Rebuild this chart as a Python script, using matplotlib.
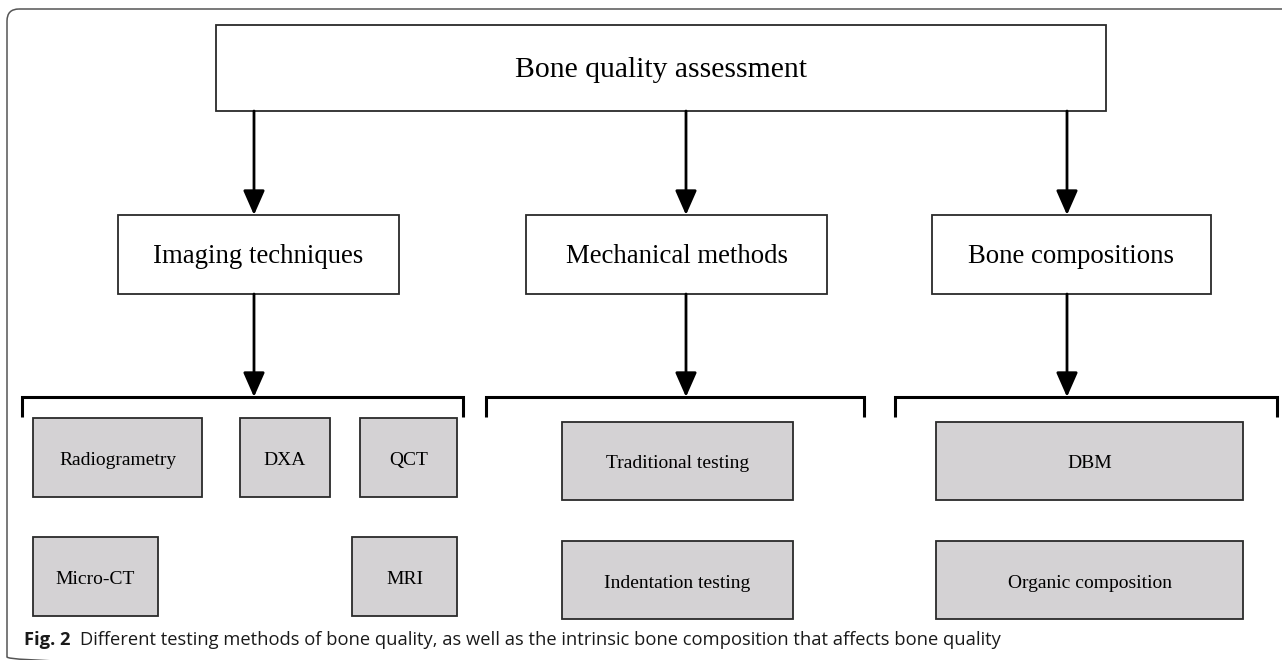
import matplotlib
matplotlib.use("Agg")
import matplotlib.pyplot as plt
from matplotlib.patches import Rectangle, FancyBboxPatch, FancyArrowPatch

# ---- content ----
root_label = "Bone quality assessment"
group_labels = ["Imaging techniques", "Mechanical methods", "Bone compositions"]
leaf_labels = ["Radiogrametry", "DXA", "QCT", "Micro-CT", "MRI",
               "Traditional testing", "Indentation testing",
               "DBM", "Organic composition"]
caption_bold = "Fig. 2"
caption_text = "Different testing methods of bone quality, as well as the intrinsic bone composition that affects bone quality"

# ---- layout (pixel coordinates: x0, y0, x1, y1) ----
root_box = (216, 25, 1106, 111)
group_boxes = [(118, 215, 399, 294), (526, 215, 827, 294), (932, 215, 1211, 294)]
group_arrow_x = [254, 686, 1067]
brackets = [(22, 463), (486, 864), (895, 1277)]
bracket_y, bracket_tick = 397, 417
leaf_boxes = [(33, 418, 202, 497), (240, 418, 330, 497), (360, 418, 457, 497),
              (33, 537, 158, 616), (352, 537, 457, 616),
              (562, 422, 793, 500), (562, 541, 793, 619),
              (936, 422, 1243, 500), (936, 541, 1243, 619)]

W, H = 1282, 660
fig = plt.figure(figsize=(W / 100, H / 100), dpi=100)
ax = fig.add_axes([0, 0, 1, 1])
ax.set_xlim(0, W)
ax.set_ylim(H, 0)
ax.axis("off")

serif = ["Liberation Serif", "DejaVu Serif"]
edge = "#2a2a2a"

# outer frame (bottom edge falls just outside the image)
frame = FancyBboxPatch((7, 9), 1400, 660, boxstyle="round,pad=0,rounding_size=12",
                       fc="none", ec="#555555", lw=1.1)
ax.add_patch(frame)

def box(b, fc="white"):
    x0, y0, x1, y1 = b
    ax.add_patch(Rectangle((x0, y0), x1 - x0, y1 - y0, fc=fc, ec=edge, lw=1.3))

def arrow(x, y0, y1):
    ax.add_patch(FancyArrowPatch((x, y0), (x, y1), arrowstyle="-|>,head_length=1.25,head_width=0.55",
                                 mutation_scale=12, color="black", lw=2, shrinkA=0, shrinkB=0))

# root
box(root_box)
ax.text((root_box[0] + root_box[2]) / 2, (root_box[1] + root_box[3]) / 2 + 2, root_label,
        ha="center", va="center", fontsize=21.3, family=serif)

for gb, lab, ax_x, (bx0, bx1) in zip(group_boxes, group_labels, group_arrow_x, brackets):
    arrow(ax_x, root_box[3], gb[1])
    box(gb)
    ax.text((gb[0] + gb[2]) / 2, (gb[1] + gb[3]) / 2 + 2, lab,
            ha="center", va="center", fontsize=19.3, family=serif)
    arrow(ax_x, gb[3], bracket_y)
    ax.plot([bx0, bx0, bx1, bx1], [bracket_tick, bracket_y, bracket_y, bracket_tick],
            color="black", lw=2.2, solid_joinstyle="miter", solid_capstyle="butt")

for lb, lab in zip(leaf_boxes, leaf_labels):
    box(lb, fc="#d4d2d4")
    ax.text((lb[0] + lb[2]) / 2, (lb[1] + lb[3]) / 2 + 3, lab,
            ha="center", va="center", fontsize=14, family=serif)

cap_font = ["Open Sans", "DejaVu Sans"]
t = ax.text(24, 645, caption_bold, ha="left", va="baseline", fontsize=13.2,
            family=cap_font, fontweight="bold", color="#1a1a1a")
fig.canvas.draw()
bb = t.get_window_extent()
x_next = ax.transData.inverted().transform((bb.x1, 0))[0] + 9
ax.text(x_next, 645, caption_text, ha="left", va="baseline", fontsize=13.2,
        family=cap_font, color="#1a1a1a")

fig.savefig("out.png", dpi=100)
